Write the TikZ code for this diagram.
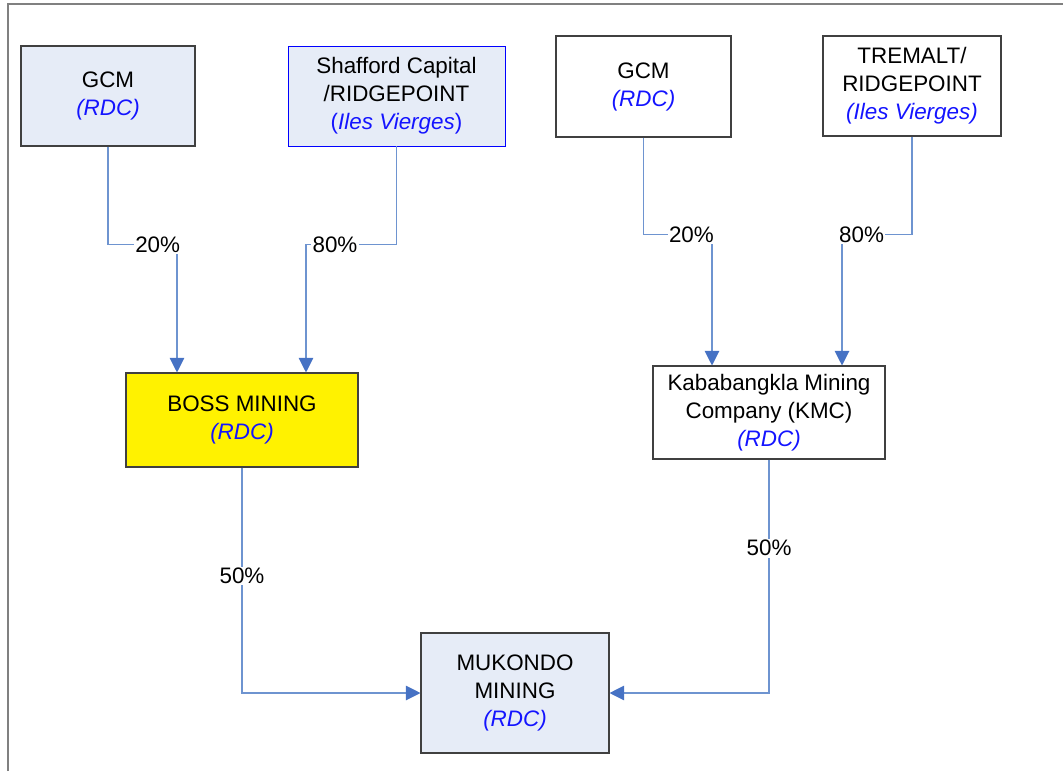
\documentclass[tikz,border=0pt]{standalone}
\usepackage{fontspec}
\setmainfont{Liberation Sans}
\usetikzlibrary{arrows.meta}

\definecolor{boxblue}{RGB}{230,236,247}
\definecolor{linkblue}{RGB}{110,148,208}
\definecolor{tipblue}{RGB}{70,114,196}
\definecolor{rdcblue}{RGB}{20,20,255}
\definecolor{framegray}{RGB}{128,128,128}

\newcommand{\where}[1]{{\color{rdcblue}\itshape #1}}

\begin{document}
\begin{tikzpicture}[x=0.75pt,y=-0.75pt,
font=\fontsize{16.8}{21}\selectfont,
company/.style={rectangle,draw=black!75,fill=white,
align=center,inner sep=0pt,line width=0.8pt},
link/.style={draw=linkblue,line width=0.8pt,
-{Triangle[length=11pt,width=11pt,color=tipblue]}},
pct/.style={fill=white,inner sep=1pt}
]
\useasboundingbox (0,0) rectangle (1063,771);
\draw[framegray,line width=1.5pt] (8,771) -- (8,4) -- (1063,4);

% owners, top row
\node[company,fill=boxblue,minimum width=130.5pt,minimum height=75pt] (gcmA) at (108,96) {GCM\\\where{(RDC)}};
\node[company,draw=blue,fill=boxblue,line width=0.6pt,minimum width=162.75pt,minimum height=75pt] (shaff) at (396.5,96)
{Shafford Capital\\/RIDGEPOINT\\{\color{rdcblue}(\textit{Iles Vierges})}};
\node[company,minimum width=131.25pt,minimum height=75.75pt] (gcmB) at (643.5,86.5) {GCM\\\where{(RDC)}};
\node[company,minimum width=133.5pt,minimum height=75pt] (trem) at (912,86)
{TREMALT/\\RIDGEPOINT\\\where{(Iles Vierges)}};

% middle row
\node[company,fill=yellow,minimum width=174pt,minimum height=70.5pt] (boss) at (242,420) {BOSS MINING\\\where{(RDC)}};
\node[company,minimum width=174pt,minimum height=69.75pt] (kmc) at (769,412.5)
{Kababangkla Mining\\Company (KMC)\\\where{(RDC)}};

% bottom
\node[company,fill=boxblue,minimum width=141pt,minimum height=90pt] (muk) at (515,693)
{MUKONDO\\MINING\\\where{(RDC)}};

\draw[link] (gcmA.south) -- ++(0,98) -| ([xshift=-48.75pt]boss.north) node[pct,pos=0.36] {20\%};
\draw[link] (shaff.south) -- ++(0,98) -| ([xshift=48pt]boss.north) node[pct,pos=0.34] {80\%};
\draw[link] (gcmB.south) -- ++(0,97) -| ([xshift=-42.75pt]kmc.north) node[pct,pos=0.35] {20\%};
\draw[link] (trem.south) -- ++(0,98) -| ([xshift=54.75pt]kmc.north) node[pct,pos=0.36] {80\%};
\draw[link] (boss.south) |- (muk.west) node[pct,pos=0.24] {50\%};
\draw[link] (kmc.south) |- (muk.east) node[pct,pos=0.19] {50\%};
\end{tikzpicture}
\end{document}
